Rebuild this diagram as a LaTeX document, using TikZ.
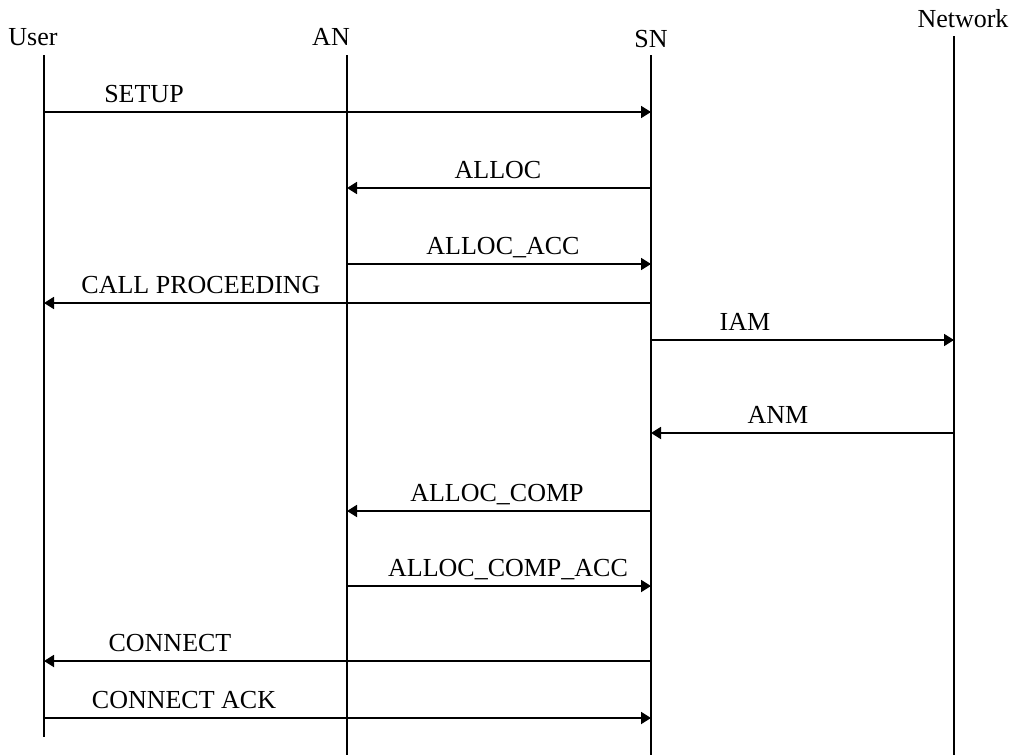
\documentclass[tikz,border=0pt]{standalone}
\usepackage{fontspec}
\setmainfont{Liberation Serif}
\usepackage{tikz}
\usetikzlibrary{arrows.meta}

\begin{document}
\begin{tikzpicture}[
  x=0.5pt, y=-0.5pt,
  font=\fontsize{13}{15}\selectfont,
  lbl/.style={anchor=base,inner sep=0pt},
  life/.style={line width=1.1pt},
  msg/.style={-{Triangle[length=5pt,width=6pt]},line width=0.9pt}
]
\useasboundingbox (0,0) rectangle (1017,755);
% entity heads
\node[lbl] (userhead) at (33,46) {User};
\node[lbl] (anhead) at (331,46) {AN};
\node[lbl] (snhead) at (651,47) {SN};
\node[lbl] (nethead) at (963,27) {Network};
% lifelines
\coordinate (user) at (44,55);
\coordinate (an) at (347,55);
\coordinate (sn) at (651,55);
\coordinate (net) at (954,36);
\coordinate (userend) at (44,737);
\coordinate (anend) at (347,755);
\coordinate (snend) at (651,755);
\coordinate (netend) at (954,755);
\draw[life] (user) -- (userend);
\draw[life] (an) -- (anend);
\draw[life] (sn) -- (snend);
\draw[life] (net) -- (netend);
% messages
\draw[msg] (user |- 0,112) -- (sn |- 0,112);
\node[lbl] (setup) at (144,102) {SETUP};
\draw[msg] (sn |- 0,188) -- (an |- 0,188);
\node[lbl] (alloc) at (498,178) {ALLOC};
\draw[msg] (an |- 0,264) -- (sn |- 0,264);
\node[lbl] (allocacc) at (503,254) {ALLOC\_ACC};
\draw[msg] (sn |- 0,303) -- (user |- 0,303);
\node[lbl] (callproc) at (201,293) {CALL PROCEEDING};
\draw[msg] (sn |- 0,340) -- (net |- 0,340);
\node[lbl] (iam) at (745,330) {IAM};
\draw[msg] (net |- 0,433) -- (sn |- 0,433);
\node[lbl] (anm) at (778,423) {ANM};
\draw[msg] (sn |- 0,511) -- (an |- 0,511);
\node[lbl] (alloccomp) at (497,501) {ALLOC\_COMP};
\draw[msg] (an |- 0,586) -- (sn |- 0,586);
\node[lbl] (alloccompacc) at (508,576) {ALLOC\_COMP\_ACC};
\draw[msg] (sn |- 0,661) -- (user |- 0,661);
\node[lbl] (connect) at (170,651) {CONNECT};
\draw[msg] (user |- 0,718) -- (sn |- 0,718);
\node[lbl] (connectack) at (184,708) {CONNECT ACK};
\end{tikzpicture}
\end{document}
